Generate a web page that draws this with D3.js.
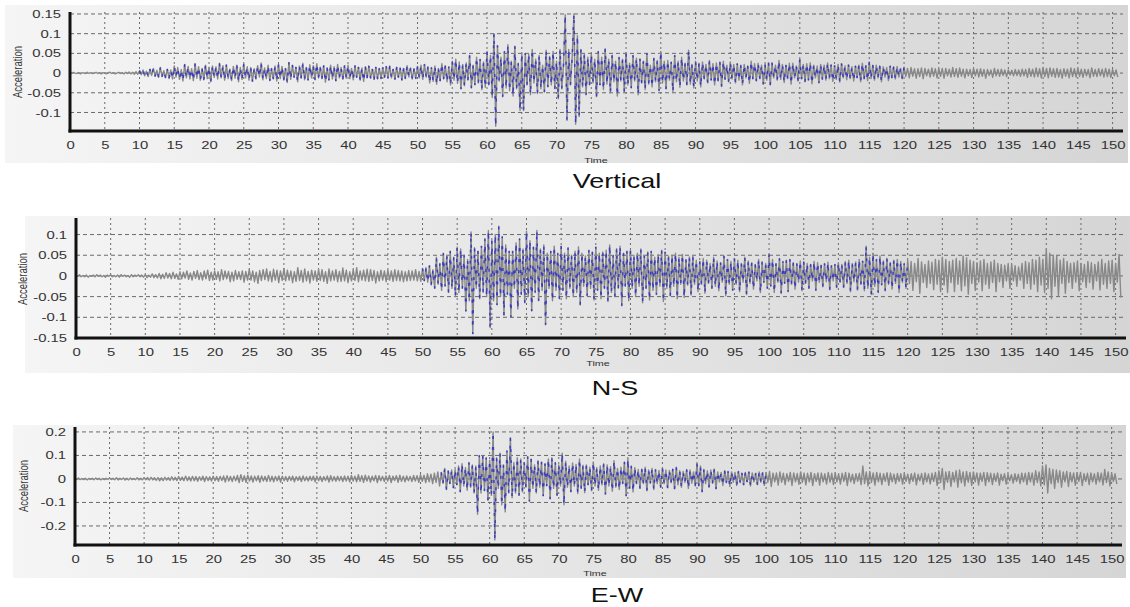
<!DOCTYPE html>
<html>
<head>
<meta charset="utf-8">
<script src="https://cdn.jsdelivr.net/npm/d3@7"></script>
<style>
  body { margin: 0; background: #fff; }
  text { font-family: Arial, "Liberation Sans", sans-serif; }
</style>
</head>
<body>
<div id="chart"></div>
<script>
// sample spacing of the traces (seconds)
var step = 0.25;
var timeTicks = d3.range(0, 151, 5);

// acceleration readings, in thousandths, one every 0.25 s from t = 0 (one row = 5 s)
var vertical = [
  1,-1,2,0,-1,1,-2,1,0,-1,2,-1,1,-1,0,2,-1,1,-2,1,
  0,-2,1,2,-1,1,-2,0,2,-1,1,-2,2,-1,3,-2,2,-3,4,-3,
  6,-4,8,-7,5,-9,10,-6,12,-8,7,-11,14,-9,6,-12,10,-14,8,-15,
  18,-10,14,-16,9,-20,22,-12,17,-15,11,-19,24,-13,16,-18,12,-17,20,-14,
  15,-22,18,-11,16,-15,25,-12,19,-18,21,-14,10,-19,17,-13,20,-22,14,-16,
  23,-12,16,-18,14,-21,11,-15,19,-10,26,-17,13,-14,20,-19,12,-15,18,-20,
  22,-14,17,-18,12,-24,27,-16,20,-11,15,-22,18,-13,25,-17,14,-18,21,-12,
  19,-17,24,-12,15,-14,19,-23,13,-18,20,-15,16,-20,22,-12,14,-16,19,-13,
  20,-14,12,-17,19,-11,15,-18,13,-21,16,-12,18,-13,10,-16,15,-15,12,-14,
  14,-11,17,-13,18,-12,10,-16,15,-11,13,-18,12,-14,19,-10,13,-15,11,-14,
  17,-12,20,-16,22,-10,16,-25,14,-21,18,-28,12,-20,24,-15,19,-22,16,-30,
  30,-18,35,-26,28,-40,22,-32,26,-18,45,-38,20,-30,40,-25,35,-42,28,-36,
  55,-30,45,-62,100,-135,70,-20,40,-60,55,-38,72,-45,30,-58,68,-40,25,-95,
  50,-95,50,-30,48,-55,60,-25,35,-52,45,-40,20,-48,58,-35,42,-30,55,-40,
  30,-65,60,-40,20,148,-120,60,-30,40,150,-130,95,-110,60,-35,48,-55,40,-30,
  48,-25,35,-60,55,-30,40,-42,62,-28,35,-50,45,-22,30,-58,40,-20,35,-48,
  52,-30,25,-38,45,-20,38,-55,36,-25,30,-42,50,-28,20,-35,38,-22,32,-45,
  55,-25,30,-40,32,-18,28,-48,45,-22,30,-36,40,-20,25,-30,58,-28,22,-38,
  30,-20,25,-35,28,-15,22,-25,32,-18,24,-30,26,-20,28,-34,30,-16,20,-22,
  28,-15,22,-25,24,-18,20,-30,22,-12,18,-26,30,-15,24,-20,25,-14,20,-28,
  22,-18,26,-30,26,-12,20,-18,32,-16,22,-24,20,-14,25,-28,25,-12,18,-20,
  35,-15,22,-22,24,-18,26,-27,20,-12,18,-25,22,-16,20,-18,26,-14,21,-21,
  19,-16,22,-23,24,-12,18,-17,21,-14,16,-20,18,-12,20,-22,25,-15,19,-19,
  28,-14,20,-18,20,-12,18,-22,16,-10,14,-19,18,-12,16,-15,17,-10,12,-14,
  15,-9,12,-12,14,-8,11,-13,11,-9,13,-14,12,-7,10,-10,13,-8,11,-12,
  11,-8,12,-13,12,-7,10,-10,14,-9,11,-11,13,-8,10,-12,10,-7,9,-11,
  12,-7,10,-10,11,-8,9,-13,9,-6,8,-11,12,-7,9,-8,10,-6,8,-9,
  8,-5,7,-7,9,-6,8,-8,10,-7,9,-11,12,-8,10,-10,13,-9,11,-12,
  14,-9,12,-12,13,-8,11,-11,12,-10,9,-13,11,-8,10,-12,13,-9,11,-10,
  12,-8,10,-11,10,-7,9,-12,13,-8,9,-9,11,-7,10,-10,12,-9,10,-11,
  9,-7,8,-10
];

var northSouth = [
  2,-1,3,-2,1,-2,2,-3,1,-1,2,-2,3,-1,2,-2,1,-3,2,-1,
  3,-2,1,-2,2,-3,3,-1,2,-2,1,-3,3,-2,2,-1,3,-2,2,-3,
  3,-4,2,-3,5,-4,3,-5,6,-7,4,-6,8,-5,6,-7,9,-6,5,-8,
  10,-7,9,-5,12,-8,7,-10,11,-6,13,-9,8,-10,12,-7,14,-11,9,-10,
  12,-8,10,-12,15,-9,12,-7,11,-14,9,-12,13,-8,10,-9,12,-15,11,-10,
  16,-10,12,-14,9,-18,13,-11,15,-9,17,-12,11,-14,16,-10,14,-16,12,-11,
  18,-12,14,-10,12,-16,10,-13,20,-11,13,-15,17,-12,11,-17,14,-10,12,-13,
  16,-11,15,-13,10,-18,17,-12,12,-10,15,-14,11,-13,19,-12,14,-16,10,-12,
  15,-11,20,-14,12,-10,14,-12,16,-13,15,-11,13,-17,10,-12,14,-10,12,-14,
  14,-10,12,-13,15,-11,13,-12,12,-14,10,-12,13,-11,12,-10,15,-12,11,-13,
  18,-12,20,-15,25,-22,15,-30,45,-20,30,-35,55,-25,50,-40,60,-30,45,-50,
  70,-40,65,-30,50,-85,40,-60,106,-140,68,-30,60,-55,72,-40,90,-50,110,-125,
  85,-60,100,-70,120,-50,95,-95,75,-45,60,-100,60,-30,80,-80,90,-45,65,-65,
  108,-50,85,-85,70,-40,110,-60,65,-35,75,-118,55,-30,60,-60,72,-35,55,-55,
  72,-35,55,-55,68,-30,50,-50,60,-40,70,-70,55,-25,48,-48,62,-30,58,-58,
  70,-35,55,-55,58,-30,62,-62,75,-40,50,-50,66,-30,72,-72,55,-25,60,-60,
  62,-30,50,-50,55,-25,65,-65,48,-30,58,-58,60,-35,45,-45,52,-25,62,-62,
  58,-30,48,-48,50,-25,55,-55,45,-20,52,-52,40,-22,46,-46,48,-20,38,-38,
  35,-20,42,-42,38,-18,30,-30,45,-25,36,-36,32,-15,48,-48,40,-20,35,-35,
  42,-20,38,-38,30,-15,45,-45,36,-18,32,-32,28,-12,40,-40,34,-16,30,-30,
  52,-25,40,-40,30,-15,42,-42,35,-18,38,-38,40,-20,32,-32,30,-15,36,-36,
  34,-18,30,-30,28,-12,35,-35,32,-15,26,-26,30,-14,33,-33,25,-12,28,-28,
  32,-15,28,-28,35,-18,38,-38,30,-14,34,-34,40,-20,36,-36,72,-30,45,-45,
  55,-25,40,-40,48,-22,36,-36,42,-20,32,-32,38,-18,40,-40,35,-16,30,-30,
  38,-18,35,-35,30,-14,42,-42,34,-16,28,-28,36,-18,33,-33,40,-20,38,-38,
  45,-22,40,-40,35,-16,38,-38,42,-20,36,-36,48,-24,44,-44,38,-18,35,-35,
  32,-15,36,-36,40,-20,30,-30,34,-16,38,-38,30,-14,28,-28,26,-12,30,-30,
  28,-12,25,-25,22,-10,30,-30,35,-18,32,-32,40,-20,38,-38,45,-22,40,-40,
  65,-30,55,-55,50,-25,48,-48,38,-18,42,-42,35,-16,30,-30,32,-15,36,-36,
  30,-14,28,-28,35,-16,32,-32,28,-12,34,-34,40,-20,30,-30,36,-18,38,-38,
  30,-15,52,-52
];

var eastWest = [
  3,-2,4,-3,2,-3,3,-4,2,-2,3,-3,4,-2,3,-4,2,-3,3,-2,
  4,-2,3,-3,5,-4,3,-2,4,-5,3,-4,4,-3,2,-3,5,-4,3,-4,
  5,-3,6,-5,7,-4,5,-6,6,-8,5,-7,7,-5,6,-6,9,-5,7,-7,
  10,-6,8,-8,12,-7,9,-9,11,-8,10,-10,9,-6,12,-11,10,-7,9,-9,
  12,-8,10,-10,11,-7,13,-13,14,-9,11,-11,12,-8,15,-15,18,-10,14,-14,
  16,-9,13,-13,12,-8,14,-14,13,-9,11,-11,15,-10,12,-12,11,-8,13,-13,
  12,-8,10,-10,11,-7,12,-12,10,-6,11,-11,13,-8,9,-9,11,-7,12,-12,
  12,-8,11,-11,10,-7,13,-13,14,-9,10,-10,12,-8,11,-11,13,-9,12,-12,
  15,-9,12,-12,18,-10,14,-14,16,-9,13,-13,12,-8,15,-15,14,-8,11,-11,
  13,-9,15,-15,12,-7,14,-14,16,-10,12,-12,13,-8,11,-11,15,-9,14,-14,
  18,-10,16,-16,22,-12,20,-20,25,-15,30,-30,28,-18,45,-45,35,-20,38,-38,
  40,-25,55,-55,65,-30,48,-48,70,-35,60,-60,55,-150,100,-60,100,-50,90,-90,
  80,-70,200,-260,90,-40,110,-110,60,-140,120,-60,175,-80,70,-60,90,-70,85,-55,
  70,-35,95,-95,85,-40,60,-60,78,-35,72,-72,65,-30,85,-85,90,-40,70,-70,
  60,-30,110,-110,75,-35,55,-55,68,-30,62,-62,85,-40,58,-58,60,-25,50,-50,
  72,-30,48,-48,55,-25,65,-65,60,-30,52,-52,78,-35,45,-45,50,-20,72,-72,
  85,-40,55,-55,48,-20,40,-40,42,-20,50,-50,38,-18,45,-45,40,-20,36,-36,
  45,-20,38,-38,36,-16,42,-42,50,-25,35,-35,32,-15,40,-40,38,-18,30,-30,
  65,-30,55,-55,40,-20,35,-35,38,-18,42,-42,30,-12,28,-28,35,-16,32,-32,
  30,-14,28,-28,32,-15,25,-25,28,-12,30,-30,26,-12,24,-24,30,-14,27,-27,
  28,-14,32,-32,25,-12,26,-26,30,-14,24,-24,22,-10,28,-28,26,-12,23,-23,
  30,-14,25,-25,24,-12,28,-28,22,-10,26,-26,25,-12,22,-22,28,-14,24,-24,
  26,-12,22,-22,24,-10,28,-28,25,-12,20,-20,22,-10,24,-24,55,-20,30,-30,
  32,-14,26,-26,28,-12,24,-24,22,-10,27,-27,25,-12,20,-20,23,-10,22,-22,
  24,-10,20,-20,22,-10,25,-25,20,-8,23,-23,26,-12,21,-21,24,-10,28,-28,
  35,-15,45,-45,30,-14,32,-32,28,-12,35,-35,38,-16,30,-30,32,-14,28,-28,
  30,-12,26,-26,25,-10,28,-28,27,-12,24,-24,22,-10,26,-26,20,-8,22,-22,
  20,-8,18,-18,22,-10,20,-20,25,-12,24,-24,28,-12,26,-26,35,-15,30,-30,
  55,-25,60,-60,45,-20,40,-40,38,-15,35,-35,30,-12,32,-32,28,-12,26,-26,
  25,-10,28,-28,22,-10,24,-24,26,-12,22,-22,28,-12,25,-25,40,-15,30,-30,
  25,-10,22,-22
];

var titles = ["Vertical", "N-S", "E-W"];
var yTickSets = [
  [0.15, 0.1, 0.05, 0, -0.05, -0.1],
  [0.1, 0.05, 0, -0.05, -0.1, -0.15],
  [0.2, 0.1, 0, -0.1, -0.2]
];
// time spans where the blue sample markers show
var blueSpans = [[10, 120], [50, 120], [53, 100]];

var width = 1130, height = 607;
var SX = 1.35; // the source picture is stretched sideways

var panels = [
  { values: vertical, title: titles[0], yTicks: yTickSets[0], blue: blueSpans[0],
    yDomain: [-0.147, 0.155], left: 70, right: 1123, top: 12, bottom: 131,
    bg: [5, 5, 1128, 163], titleX: 617, titleY: 188, timeX: 596, timeY: 163, accX: 18, accY: 72 },
  { values: northSouth, title: titles[1], yTicks: yTickSets[1], blue: blueSpans[1],
    yDomain: [-0.15, 0.14], left: 76, right: 1126, top: 218, bottom: 338,
    bg: [25, 216, 1130, 373], titleX: 615, titleY: 395, timeX: 598, timeY: 366, accX: 23, accY: 279 },
  { values: eastWest, title: titles[2], yTicks: yTickSets[2], blue: blueSpans[2],
    yDomain: [-0.281, 0.221], left: 75, right: 1122, top: 427, bottom: 545,
    bg: [13, 425, 1126, 578], titleX: 617, titleY: 602, timeX: 595, timeY: 576, accX: 24, accY: 486 }
];

var svg = d3.select("#chart").append("svg")
  .attr("width", width)
  .attr("height", height);

var grad = svg.append("defs").append("linearGradient")
  .attr("id", "bgGrad")
  .attr("x1", "0").attr("x2", "1").attr("y1", "0").attr("y2", "0");
grad.append("stop").attr("offset", "0%").attr("stop-color", "#f5f5f5");
grad.append("stop").attr("offset", "100%").attr("stop-color", "#d5d5d5");

panels.forEach(function(p) {
  var g = svg.append("g");

  g.append("rect")
    .attr("x", p.bg[0]).attr("y", p.bg[1])
    .attr("width", p.bg[2] - p.bg[0]).attr("height", p.bg[3] - p.bg[1])
    .attr("fill", "url(#bgGrad)");

  var x = d3.scaleLinear().domain([0, 151.5]).range([p.left, p.right]);
  var y = d3.scaleLinear().domain(p.yDomain).range([p.bottom, p.top]);

  // dotted grid
  g.selectAll(".vgrid")
    .data(timeTicks.slice(1))
    .enter().append("line")
    .attr("x1", function(d) { return x(d); })
    .attr("x2", function(d) { return x(d); })
    .attr("y1", p.top).attr("y2", p.bottom)
    .attr("stroke", "#6a6a6a")
    .attr("stroke-width", 1)
    .attr("stroke-dasharray", "2,3");

  g.selectAll(".hgrid")
    .data(p.yTicks)
    .enter().append("line")
    .attr("x1", p.left).attr("x2", p.right)
    .attr("y1", function(d) { return y(d); })
    .attr("y2", function(d) { return y(d); })
    .attr("stroke", "#6a6a6a")
    .attr("stroke-width", 1)
    .attr("stroke-dasharray", "4,3");

  // the trace
  var points = p.values.map(function(v, i) { return [i * step, v / 1000]; });
  var line = d3.line()
    .x(function(d) { return x(d[0]); })
    .y(function(d) { return y(d[1]); });

  g.append("path")
    .datum(points)
    .attr("d", line)
    .attr("fill", "none")
    .attr("stroke", "#888")
    .attr("stroke-width", 1.4)
    .attr("stroke-linejoin", "round");

  var bluePts = points.filter(function(d) { return d[0] >= p.blue[0] && d[0] <= p.blue[1]; });
  g.append("path")
    .datum(bluePts)
    .attr("d", line)
    .attr("fill", "none")
    .attr("stroke", "#2f2fc8")
    .attr("stroke-width", 1.5)
    .attr("stroke-dasharray", "3,8")
    .attr("opacity", 0.85);

  // axes
  var xAxis = g.append("g")
    .attr("transform", "translate(0," + p.bottom + ")")
    .call(d3.axisBottom(x).tickValues(timeTicks).tickSize(0).tickSizeOuter(0).tickPadding(10)
      .tickFormat(function(d) { return String(d); }));

  var yAxis = g.append("g")
    .attr("transform", "translate(" + p.left + ",0)")
    .call(d3.axisLeft(y).tickValues(p.yTicks).tickSize(0).tickSizeOuter(0).tickPadding(9)
      .tickFormat(function(d) { return String(d); }));

  [xAxis, yAxis].forEach(function(a) {
    a.select(".domain").attr("stroke", "#111").attr("stroke-width", 3);
    a.selectAll("text")
      .attr("fill", "#333")
      .style("font-size", "11px")
      .attr("transform", "scale(" + SX + ",1)");
  });
  yAxis.selectAll("text").attr("x", -9 / SX);
  yAxis.select(".domain").attr("d", "M0," + p.top + "V" + (p.bottom + 1.5));
  xAxis.select(".domain").attr("d", "M" + (p.left - 1.5) + ",0H" + p.right);

  g.append("text")
    .attr("transform", "translate(" + p.timeX + "," + p.timeY + ") scale(" + SX + ",1)")
    .attr("text-anchor", "middle")
    .attr("fill", "#333")
    .style("font-size", "8px")
    .text("Time");

  g.append("text")
    .attr("transform", "translate(" + p.accX + "," + p.accY + ") rotate(-90) scale(1," + SX + ")")
    .attr("text-anchor", "middle")
    .attr("dy", "0.35em")
    .attr("fill", "#333")
    .style("font-size", "9.5px")
    .text("Acceleration");

  g.append("text")
    .attr("transform", "translate(" + p.titleX + "," + p.titleY + ") scale(" + SX + ",1)")
    .attr("text-anchor", "middle")
    .attr("fill", "#111")
    .style("font-size", "20px")
    .text(p.title);
});
</script>
</body>
</html>
